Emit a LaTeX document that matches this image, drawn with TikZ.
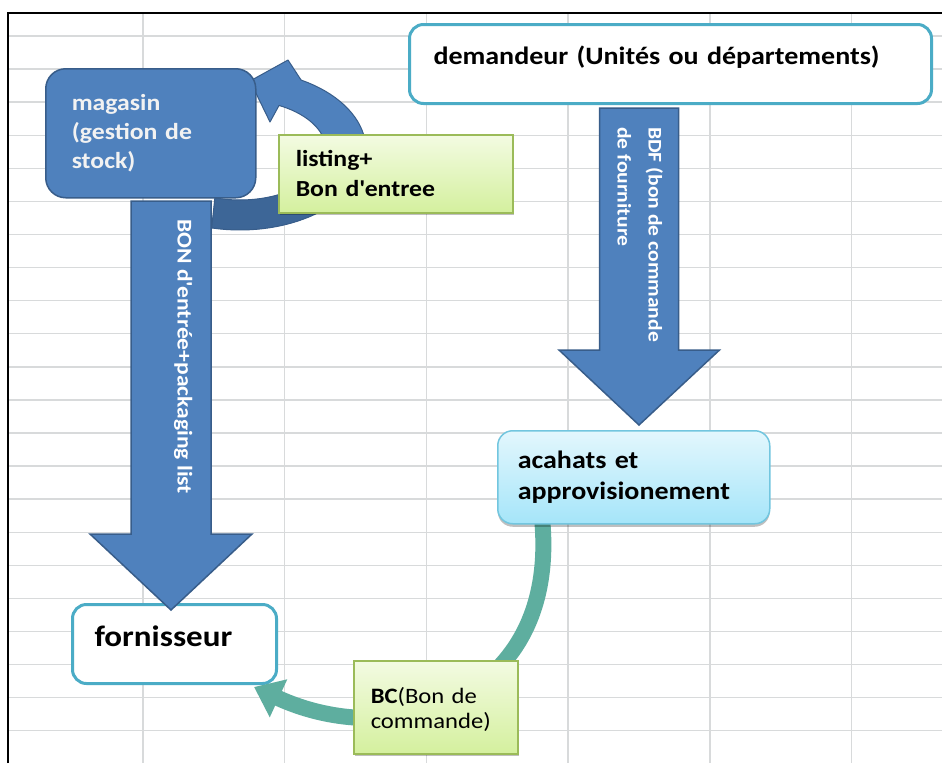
\documentclass[tikz,border=0pt]{standalone}
\usepackage{fontspec}
\setmainfont{Carlito}[FakeStretch=1.12]
\usetikzlibrary{arrows.meta,shadows}
\definecolor{blueA}{HTML}{4F81BD}
\definecolor{blueB}{HTML}{385D8A}
\definecolor{blueC}{HTML}{3D6697}
\definecolor{tealB}{HTML}{4BACC6}
\definecolor{cyanT}{HTML}{E3F7FD}
\definecolor{cyanB}{HTML}{A5E5F9}
\definecolor{cyanD}{HTML}{72C6DF}
\definecolor{greenT}{HTML}{F3FBE2}
\definecolor{greenB}{HTML}{D4F09E}
\definecolor{greenD}{HTML}{9BBB59}
\definecolor{tealArrow}{HTML}{5EAE9F}
\definecolor{gridc}{HTML}{D8DADB}
\tikzset{
  gridline/.style={draw=gridc, line width=1.4pt},
  blockarrow/.style={fill=blueA, draw=blueB, line width=1.5pt, line join=miter},
  arrowtext/.style={text=white, inner sep=0pt},
  bluebox/.style={fill=blueA, draw=blueB, line width=1.5pt, rounded corners=20pt, text=white!95!black},
  whitebox/.style={fill=white, draw=tealB, line width=3pt, rounded corners=14pt, text=black},
  cyanbox/.style={top color=cyanT, bottom color=cyanB, draw=cyanD, line width=1.5pt, rounded corners=15pt,
     drop shadow={shadow xshift=0pt, shadow yshift=-3pt, opacity=0.25, fill=black}},
  greenbox/.style={top color=greenT, bottom color=greenB, draw=greenD, line width=1.5pt,
     drop shadow={shadow xshift=1.5pt, shadow yshift=-2.5pt, opacity=0.25, fill=black}},
  tealconn/.style={draw=tealArrow, line width=16pt, -{Triangle[length=27pt,width=40pt]}},
}
\begin{document}
\begin{tikzpicture}[x=1pt,y=-1pt]
\useasboundingbox (0,0) rectangle (942,763);
\fill[white] (0,0) rectangle (942,763);
% spreadsheet grid
\foreach \k in {0,...,21} \draw[gridline] (9,{36+33.08*\k}) -- (942,{36+33.08*\k});
\foreach \xx in {143,284.7,426.4,568,709.8,851.5} \draw[gridline] (\xx,14) -- (\xx,763);
\draw[line width=2pt] (8,763) -- (8,13) -- (942,13);

% circular arrow near magasin
\fill[blueA] plot[domain=103:-61, samples=50] ({240+126*cos(\x)},{150+80*sin(\x)})
   -- (288,60) -- (250,81) -- (270,122)
   -- plot[domain=-63:107, samples=50] ({240+86*cos(\x)},{150+50*sin(\x)}) -- cycle;
\fill[blueC] plot[domain=35:103, samples=30] ({240+126*cos(\x)},{150+80*sin(\x)})
   -- plot[domain=107:35, samples=30] ({240+86*cos(\x)},{150+50*sin(\x)}) -- cycle;
\draw[blueB, line width=1pt, line join=round] plot[domain=103:-61, samples=50] ({240+126*cos(\x)},{150+80*sin(\x)})
   -- (288,60) -- (250,81) -- (270,122)
   -- plot[domain=-63:107, samples=50] ({240+86*cos(\x)},{150+50*sin(\x)}) -- cycle;

% boxes
\node[bluebox, anchor=north west, minimum width=210pt, minimum height=129pt, inner xsep=26pt,
      text width=158pt, align=left, font=\bfseries\fontsize{23}{29}\selectfont] (mag) at (45,68)
      {magasin\\(gestion de\\stock)};
\node[whitebox, anchor=north west, minimum width=522pt, minimum height=79pt, inner xsep=24pt,
      text width=474pt, align=left, text height=12pt, text depth=12pt,
      font=\bfseries\fontsize{25}{30}\selectfont] (dem) at (408,23)
      {demandeur (Unités ou départements)};
\node[whitebox, anchor=north west, minimum width=204pt, minimum height=79pt, inner xsep=22pt,
      text width=160pt, align=left, text height=14pt, text depth=9pt,
      font=\bfseries\fontsize{29.5}{34}\selectfont] (forn) at (71,603) {fornisseur};

% BC connector (from under acahats -> fornisseur)
\coordinate (bcStart) at (542,518);
\coordinate (bcTip) at ([xshift=-24pt,yshift=-2pt]forn.south east);
\draw[tealconn] (bcStart) .. controls (560,700) and (395,752) .. (bcTip);

\node[cyanbox, anchor=north west, minimum width=272pt, minimum height=93pt, inner xsep=20pt,
      text width=232pt, align=left, font=\bfseries\fontsize{25}{31}\selectfont] (ach) at (497,430)
      {acahats et\\approvisionement};

% BDF block arrow (demandeur -> acahats)
\coordinate (bdfTop) at (639,108);
\coordinate (bdfTip) at (639,425);
\filldraw[blockarrow] ([xshift=-39.5pt]bdfTop) -- ([xshift=39.5pt]bdfTop) -- (678.5,350) -- (719.5,350)
   -- (bdfTip) -- (559,350) -- (599.5,350) -- cycle;
\node[arrowtext, rotate=-90, anchor=base west, font=\bfseries\fontsize{19.3}{23}\selectfont] (bdfA) at (648.5,127) {BDF (bon de commande};
\node[arrowtext, rotate=-90, anchor=base west, font=\bfseries\fontsize{19.3}{23}\selectfont] (bdfB) at (617.5,127) {de fourniture};

% BON block arrow (magasin -> fornisseur)
\coordinate (bonTop) at (171,201);
\coordinate (bonTip) at (171,610);
\filldraw[blockarrow] ([xshift=-40pt]bonTop) -- ([xshift=40pt]bonTop) -- (211,534) -- (252,534)
   -- (bonTip) -- (90,534) -- (131,534) -- cycle;
\node[arrowtext, rotate=-90, anchor=base west, font=\bfseries\fontsize{21}{25}\selectfont] (bonT) at (177.5,219) {BON d\textquotesingle entrée+packaging list};

% label boxes
\node[greenbox, anchor=north west, minimum width=234pt, minimum height=78pt, inner xsep=17pt,
      text width=200pt, align=left, font=\bfseries\fontsize{23}{30}\selectfont] (lst) at (278,134)
      {listing+\\Bon d\textquotesingle entree};
\node[greenbox, anchor=north west, minimum width=164pt, minimum height=93pt, inner xsep=17pt,
      text width=130pt, align=left, text depth=24pt, font=\fontsize{22}{25}\selectfont] (bc) at (353,660)
      {\textbf{BC}(Bon de\\commande)};
\end{tikzpicture}
\end{document}
